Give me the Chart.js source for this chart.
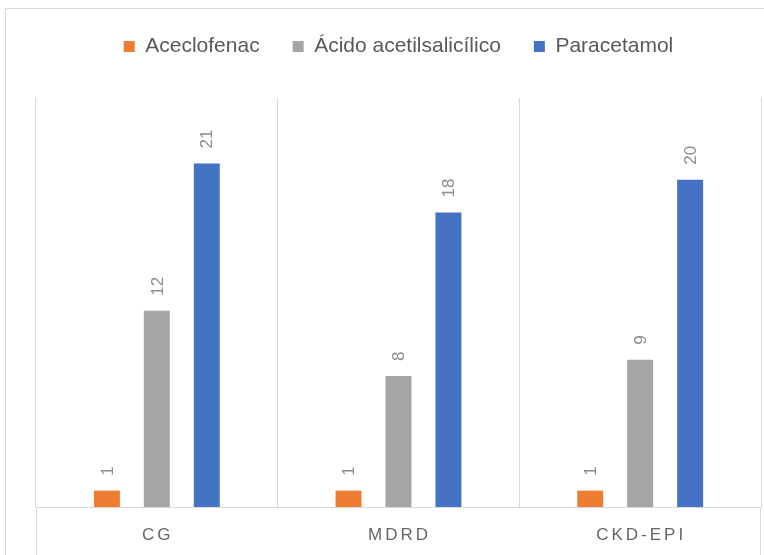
<!DOCTYPE html>
<html>
<head>
<meta charset="utf-8">
<script src="https://cdn.jsdelivr.net/npm/chart.js@4/dist/chart.umd.min.js"></script>
<style>
  html, body { margin: 0; padding: 0; background: #fff; }
  #wrap { width: 764px; height: 555px; }
</style>
</head>
<body>
<div id="wrap"><canvas id="myChart"></canvas></div>
<script>
const categorias = ['CG', 'MDRD', 'CKD-EPI'];
const aceclofenac = [1, 1, 1];
const acidoAcetilsalicilico = [12, 8, 9];
const paracetamol = [21, 18, 20];

// etiquetas giradas encima de cada barra
const etiquetas = {
    id: 'etiquetas',
    afterDatasetsDraw(chart) {
        const ctx = chart.ctx;
        ctx.save();
        ctx.font = '17px "Liberation Sans", Arial, sans-serif';
        ctx.fillStyle = '#8c8c8c';
        ctx.textAlign = 'left';
        ctx.textBaseline = 'middle';
        chart.data.datasets.forEach(function(ds, i) {
            chart.getDatasetMeta(i).data.forEach(function(bar, j) {
                ctx.save();
                ctx.translate(bar.x + 1, bar.y - 15);
                ctx.rotate(-Math.PI / 2);
                ctx.fillText(String(ds.data[j]), 0, 0);
                ctx.restore();
            });
        });
        ctx.restore();
    }
};

// nombres de categoría espaciados + marco
const ejeX = {
    id: 'ejeX',
    beforeInit(chart) {
        const fit = chart.legend.fit;
        chart.legend.fit = function() {
            fit.bind(chart.legend)();
            this.height += 31;
        };
    },
    afterDraw(chart) {
        const ctx = chart.ctx;
        const x = chart.scales.x;
        const area = chart.chartArea;
        ctx.save();
        ctx.strokeStyle = '#d9d9d9';
        ctx.lineWidth = 1;
        ctx.beginPath();
        ctx.moveTo(5.5, chart.height);
        ctx.lineTo(5.5, 8.5);
        ctx.lineTo(chart.width, 8.5);
        ctx.moveTo(area.left + 0.5, area.bottom);
        ctx.lineTo(area.left + 0.5, chart.height);
        ctx.moveTo(area.right - 0.5, area.bottom);
        ctx.lineTo(area.right - 0.5, chart.height);
        ctx.stroke();
        ctx.font = '17px "Liberation Sans", Arial, sans-serif';
        ctx.fillStyle = '#666666';
        ctx.textAlign = 'center';
        ctx.textBaseline = 'middle';
        ctx.letterSpacing = '3px';
        categorias.forEach(function(c, i) {
            ctx.fillText(c, x.getPixelForValue(i) + 1, area.bottom + 28);
        });
        ctx.restore();
    }
};

const ctx = document.getElementById('myChart').getContext('2d');
const myChart = new Chart(ctx, {
    type: 'bar',
    data: {
        labels: categorias,
        datasets: [
            {
                label: 'Aceclofenac',
                data: aceclofenac,
                backgroundColor: '#ED7D31'
            },
            {
                label: 'Ácido acetilsalicílico',
                data: acidoAcetilsalicilico,
                backgroundColor: '#A5A5A5'
            },
            {
                label: 'Paracetamol',
                data: paracetamol,
                backgroundColor: '#4472C4'
            }
        ]
    },
    options: {
        responsive: true,
        maintainAspectRatio: false,
        animation: false,
        datasets: {
            bar: {
                categoryPercentage: 0.62,
                barPercentage: 0.52
            }
        },
        layout: {
            padding: { top: 3, left: 36, right: 3, bottom: 48 }
        },
        plugins: {
            legend: {
                position: 'top',
                labels: {
                    boxWidth: 11,
                    boxHeight: 11,
                    padding: 33,
                    color: '#595959',
                    font: { size: 21, family: '"Liberation Sans", Arial, sans-serif' }
                }
            },
            tooltip: { enabled: false }
        },
        scales: {
            x: {
                grid: {
                    display: true,
                    offset: true,
                    color: '#d9d9d9',
                    drawTicks: false
                },
                border: { display: true, color: '#d9d9d9' },
                ticks: { display: false }
            },
            y: {
                display: false,
                min: 0,
                max: 25
            }
        }
    },
    plugins: [etiquetas, ejeX]
});
</script>
</body>
</html>
